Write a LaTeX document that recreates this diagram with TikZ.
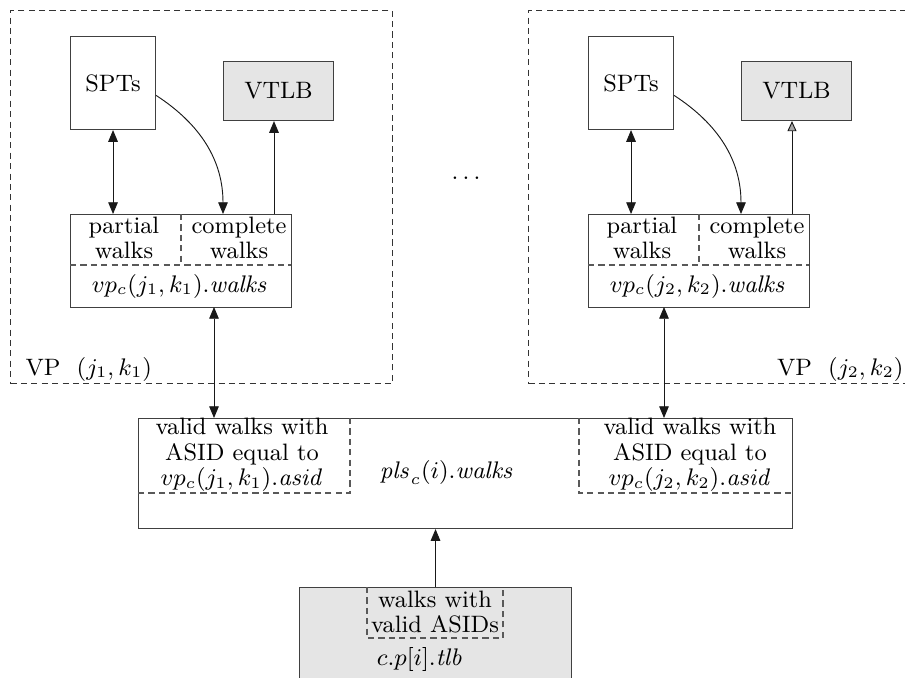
\documentclass[tikz,border=0pt]{standalone}
\usetikzlibrary{arrows.meta}
\newdimen\upx \upx=0.375pt
\begin{document}
\begin{tikzpicture}[x=0.375pt,y=-0.375pt,
  font=\fontsize{8.9}{9.6}\selectfont,
  every node/.append style={align=center},
  box/.style={draw=black!75, inner sep=0pt, anchor=north west},
  vpbox/.style={draw=black!80, dash pattern=on 2.3pt off 1.6pt, inner sep=0pt, anchor=north west},
  dsh/.style={draw=black!65, dash pattern=on 2.3pt off 1.6pt},
  arr/.style={draw=black!90, line width=0.35pt, -{Triangle[length=4.4pt,width=3.6pt]}},
  dbl/.style={draw=black!90, line width=0.35pt, {Triangle[length=4.4pt,width=3.6pt]}-{Triangle[length=4.4pt,width=3.6pt]}},
  garr/.style={draw=black!90, line width=0.35pt, -{Triangle[length=3.8pt,width=3.4pt,fill=black!35]}},
  lbl/.style={inner sep=0pt}
]
\useasboundingbox (0,0) rectangle (905,678);
\clip (0,0) rectangle (905,678);

% VP containers
\node[vpbox, minimum width=382\upx, minimum height=373\upx] (vp1) at (10,10) {};
\node[vpbox, minimum width=382\upx, minimum height=373\upx] (vp2) at (528,10) {};
\node[lbl, anchor=base west] (vpl1) at (25,375) {VP\ \ $(j_1,k_1)$};
\node[lbl, anchor=base east] (vpl2) at (904,375) {VP\ \ $(j_2,k_2)$};

% left VP
\node[box, minimum width=85\upx, minimum height=93\upx] (spt1) at (70,36) {SPTs};
\node[box, fill=black!10, minimum width=110\upx, minimum height=59\upx] (vtlb1) at (223,61) {VTLB};
\node[box, minimum width=221\upx, minimum height=93\upx] (wk1) at (70,214) {};
\draw[dsh] (70,265) -- (291,265);
\draw[dsh] (181,214) -- (181,265);
\node (pw1) at (124,238) {partial\\walks};
\node (cw1) at (239,238) {complete\\walks};
\node (vw1) at (180,286) {$vp_c(j_1,k_1).\mathit{walks}$};
\draw[dbl] (spt1.south) -- (spt1.south |- wk1.north);
\draw[arr] (spt1.-16) to[out=-33,in=90] (vtlb1.west |- wk1.north);
\coordinate (u1) at (274,214);
\draw[arr] (u1) -- (u1 |- vtlb1.south);

% right VP
\node[box, minimum width=85\upx, minimum height=93\upx] (spt2) at (588,36) {SPTs};
\node[box, fill=black!10, minimum width=110\upx, minimum height=59\upx] (vtlb2) at (741,61) {VTLB};
\node[box, minimum width=221\upx, minimum height=93\upx] (wk2) at (588,214) {};
\draw[dsh] (588,265) -- (809,265);
\draw[dsh] (699,214) -- (699,265);
\node (pw2) at (642,238) {partial\\walks};
\node (cw2) at (757,238) {complete\\walks};
\node (vw2) at (698,286) {$vp_c(j_2,k_2).\mathit{walks}$};
\draw[dbl] (spt2.south) -- (spt2.south |- wk2.north);
\draw[arr] (spt2.-16) to[out=-33,in=90] (vtlb2.west |- wk2.north);
\coordinate (u2) at (792,214);
\draw[garr] (u2) -- (u2 |- vtlb2.south);

\node (dots) at (466,178) {$\ldots$};

% pls box
\node[box, minimum width=654\upx, minimum height=110\upx] (pls) at (138,418) {};
\draw[dsh] (350,418) -- (350,493) -- (138,493);
\draw[dsh] (579,418) -- (579,493) -- (792,493);
\node (va1) at (242,455) {valid walks with\\ASID equal to\\$vp_c(j_1,k_1).\mathit{asid}$};
\node (va2) at (690,455) {valid walks with\\ASID equal to\\$vp_c(j_2,k_2).\mathit{asid}$};
\node (plst) at (447,472) {$\mathit{pls}_c(i).\mathit{walks}$};
\coordinate (b1) at (214,307);
\draw[dbl] (b1) -- (b1 |- pls.north);
\coordinate (b2) at (664,307);
\draw[dbl] (b2) -- (b2 |- pls.north);

% tlb box
\node[box, fill=black!10, minimum width=272\upx, minimum height=130\upx] (tlb) at (299,587) {};
\draw[dsh] (367,587) -- (367,638) -- (503,638) -- (503,587);
\node (vas) at (435,612) {walks with\\valid ASIDs};
\node (tlbt) at (420,659) {$c.p[i].\mathit{tlb}$};
\draw[arr] (tlb.north) -- (tlb.north |- pls.south);
\end{tikzpicture}
\end{document}
